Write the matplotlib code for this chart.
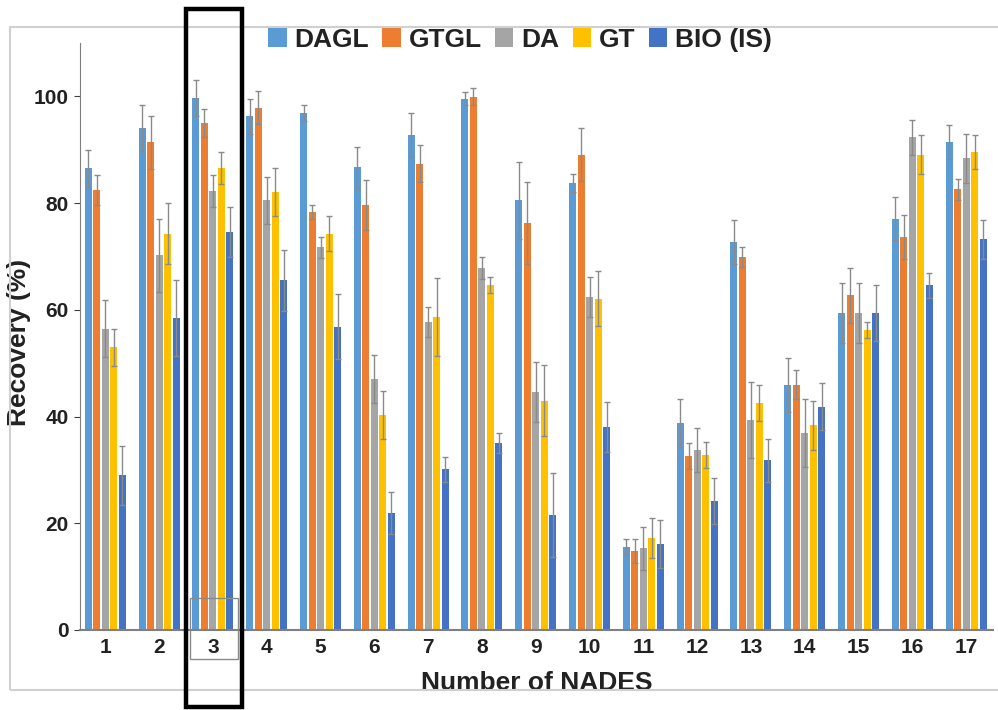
import matplotlib
matplotlib.use("Agg")
import matplotlib.pyplot as plt
import numpy as np
from matplotlib.patches import Rectangle

plt.rcParams['font.family'] = ['Liberation Sans', 'DejaVu Sans']
plt.rcParams['font.weight'] = 'bold'

# データ
groups = [str(i) for i in range(1, 18)]
series = ["DAGL", "GTGL", "DA", "GT", "BIO (IS)"]
colors = ["#5B9BD5", "#ED7D31", "#A5A5A5", "#FFC000", "#4472C4"]

dagl = [86.5, 94.0, 99.7, 96.3, 96.8, 86.7, 92.7, 99.6, 80.5, 83.7, 15.5, 38.8, 72.7, 45.9, 59.4, 77.1, 91.4]
gtgl = [82.4, 91.4, 95.0, 97.9, 78.3, 79.6, 87.4, 99.9, 76.2, 89.1, 14.8, 32.6, 69.9, 46.0, 62.7, 73.6, 82.6]
da = [56.5, 70.2, 82.2, 80.5, 71.7, 47.0, 57.7, 67.8, 44.6, 62.4, 15.3, 33.7, 39.3, 36.9, 59.4, 92.3, 88.4]
gt = [53.0, 74.3, 86.5, 82.0, 74.3, 40.3, 58.6, 64.6, 43.0, 62.1, 17.2, 32.8, 42.5, 38.4, 56.2, 89.1, 89.5]
bio = [29.0, 58.4, 74.6, 65.5, 56.8, 21.9, 30.1, 35.0, 21.5, 38.0, 16.1, 24.2, 31.8, 41.8, 59.4, 64.6, 73.2]

# 誤差（SD）
dagl_err = [3.5, 4.3, 3.3, 3.3, 1.5, 3.8, 4.1, 1.2, 7.2, 1.7, 1.5, 4.5, 4.1, 5.0, 5.6, 4.0, 3.2]
gtgl_err = [2.8, 5.0, 2.7, 3.1, 1.3, 4.7, 3.4, 1.6, 7.7, 4.9, 2.2, 2.4, 1.8, 2.7, 5.1, 4.1, 2.0]
da_err = [5.3, 6.8, 3.0, 4.4, 1.9, 4.5, 2.8, 2.1, 5.6, 3.7, 4.0, 4.1, 7.1, 6.4, 5.6, 3.2, 4.6]
gt_err = [3.5, 5.7, 3.0, 4.5, 3.2, 4.5, 7.3, 1.5, 6.6, 5.2, 3.8, 2.4, 3.4, 4.6, 1.5, 3.6, 3.2]
bio_err = [5.5, 7.1, 4.7, 5.8, 6.1, 3.9, 2.3, 1.9, 7.9, 4.7, 4.5, 4.3, 4.0, 4.4, 5.2, 2.3, 3.6]

values = [dagl, gtgl, da, gt, bio]
errors = [dagl_err, gtgl_err, da_err, gt_err, bio_err]

fig = plt.figure(figsize=(9.98, 7.1), dpi=100)
ax = fig.add_axes([0.0802, 0.1127, 0.9148, 0.8267])

x = np.arange(1, len(groups) + 1)
step = 0.158
width = 0.13
for i, (name, vals, err, c) in enumerate(zip(series, values, errors, colors)):
    ax.bar(x + (i - 2) * step, vals, width, color=c, label=name,
           yerr=err, ecolor="#8a8a8a", capsize=2,
           error_kw=dict(elinewidth=1, capthick=1))

ax.set_xlim(0.53, 17.5)
ax.set_ylim(0, 110)
ax.set_yticks([0, 20, 40, 60, 80, 100])
ax.set_xticks(x)
ax.set_xticklabels(groups)
ax.tick_params(axis='both', labelsize=15, colors="#404040", labelcolor="#222222")
ax.tick_params(axis='x', length=0, pad=6)
ax.tick_params(axis='y', length=4, pad=4)
for lab in ax.get_xticklabels() + ax.get_yticklabels():
    lab.set_fontweight('bold')
ax.spines['top'].set_visible(False)
ax.spines['right'].set_visible(False)
ax.spines['left'].set_color("#7f7f7f")
ax.spines['bottom'].set_color("#7f7f7f")
ax.spines['bottom'].set_linewidth(1.5)

ax.set_ylabel("Recovery (%)", fontsize=19, fontweight='bold', color="#222222")
ax.yaxis.set_label_coords(-0.054, 0.49)
ax.set_xlabel("Number of NADES", fontsize=19, fontweight='bold', color="#222222", labelpad=10)

leg = fig.legend(loc='center', bbox_to_anchor=(0.521, 0.944), ncol=5, frameon=False,
                 fontsize=19, handlelength=0.7, handleheight=0.7, handletextpad=0.3,
                 columnspacing=0.5, prop={'weight': 'bold', 'size': 19})
for t in leg.get_texts():
    t.set_color("#222222")

# 外枠（スクリーンショットの枠）
fig.patches.append(Rectangle((10 / 998, 1 - 690 / 710), 1.2, (690 - 27) / 710,
                             transform=fig.transFigure, fill=False,
                             edgecolor="#d0d0d0", linewidth=1.5))
# 強調枠
fig.patches.append(Rectangle((190 / 998, 1 - 659 / 710), 48 / 998, 61 / 710,
                             transform=fig.transFigure, fill=False,
                             edgecolor="#8a8a8a", linewidth=1))
fig.patches.append(Rectangle((186 / 998, 1 - 707 / 710), 56 / 998, 698 / 710,
                             transform=fig.transFigure, fill=False,
                             edgecolor="black", linewidth=3.2))

plt.savefig("out.png", dpi=100)
